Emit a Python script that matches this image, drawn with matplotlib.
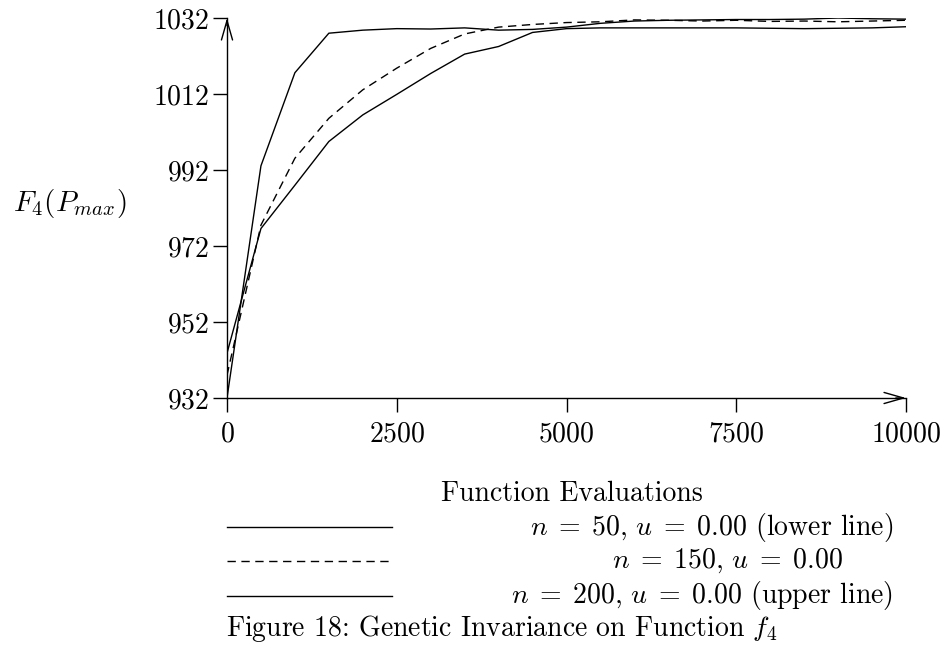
import numpy as np
import matplotlib
matplotlib.use("Agg")
import matplotlib.pyplot as plt
from matplotlib.lines import Line2D

plt.rcParams['font.family'] = 'serif'
plt.rcParams['font.serif'] = ['cmr10', 'DejaVu Serif']
plt.rcParams['mathtext.fontset'] = 'cm'
plt.rcParams['axes.formatter.use_mathtext'] = True

# Data (function evaluations vs best fitness)
evals = np.arange(0, 10001, 500)
n50 = [943.8, 976.6, 988.0, 999.5, 1006.5, 1011.9, 1017.4, 1022.5, 1024.5, 1028.2,
       1029.2, 1029.4, 1029.4, 1029.4, 1029.4, 1029.4, 1029.3, 1029.2, 1029.3, 1029.4, 1029.7]
n150 = [938.0, 977.5, 995.1, 1005.6, 1013.1, 1018.8, 1024.0, 1027.8, 1029.6, 1030.3,
        1030.8, 1031.0, 1031.5, 1031.4, 1031.2, 1031.4, 1031.1, 1031.2, 1031.0, 1031.2, 1031.4]
n200 = [932.0, 993.1, 1017.6, 1028.0, 1028.8, 1029.2, 1029.1, 1029.4, 1028.8, 1029.0,
        1029.6, 1030.6, 1031.2, 1031.4, 1031.5, 1031.6, 1031.6, 1031.7, 1032.0, 1031.8, 1031.7]

xticks = [0, 2500, 5000, 7500, 10000]
yticks = [932, 952, 972, 992, 1012, 1032]

labels = [r'$n\;=\;50,\,u\;=\;0.00$ (lower line)',
          r'$n\;=\;150,\,u\;=\;0.00$',
          r'$n\;=\;200,\,u\;=\;0.00$ (upper line)']

W, H = 946, 655
fig = plt.figure(figsize=(W / 100, H / 100), dpi=100)
ax = fig.add_axes([227 / W, 1 - 398 / H, (906 - 227) / W, (398 - 18) / H])

ax.plot(evals, n50, color='black', lw=1.0)
ax.plot(evals, n150, color='black', lw=1.0, linestyle=(0, (6, 4)))
ax.plot(evals, n200, color='black', lw=1.0)

ax.set_xlim(0, 10000)
ax.set_ylim(932, 1032)
ax.set_xticks(xticks)
ax.set_yticks(yticks)
ax.tick_params(direction='out', length=10, width=1, labelsize=20, pad=7)
ax.tick_params(axis='y', pad=3)
for s in ['top', 'right']:
    ax.spines[s].set_visible(False)
for s in ['left', 'bottom']:
    ax.spines[s].set_linewidth(1.0)

# arrow heads on the axes
arr = dict(arrowstyle='->,head_length=1.4,head_width=0.4', color='black', lw=1.0,
           shrinkA=0, shrinkB=0)
ax.annotate('', xy=(1, 0), xytext=(0.985, 0), xycoords='axes fraction', arrowprops=arr)
ax.annotate('', xy=(0, 1), xytext=(0, 0.98), xycoords='axes fraction', arrowprops=arr)

fig.text(70 / W, 1 - 203 / H, r'$F_4(P_{max})$', fontsize=21, ha='center', va='center')
fig.text(572 / W, 1 - 494 / H, 'Function Evaluations', fontsize=20, ha='center', va='center')

rows = [527, 561, 596]
centers = [712, 727, 702]
styles = ['-', (0, (6, 4)), '-']
for y, c, st, lab in zip(rows, centers, styles, labels):
    fig.add_artist(Line2D([227 / W, 392 / W], [1 - y / H, 1 - y / H], color='black',
                          lw=1.0, linestyle=st))
    fig.text(c / W, 1 - y / H, lab, fontsize=20, ha='center', va='center')

fig.text(226 / W, 1 - 628 / H, r'Figure 18: Genetic Invariance on Function $f_4$',
         fontsize=20, ha='left', va='center')

fig.savefig('out.png', dpi=100)
